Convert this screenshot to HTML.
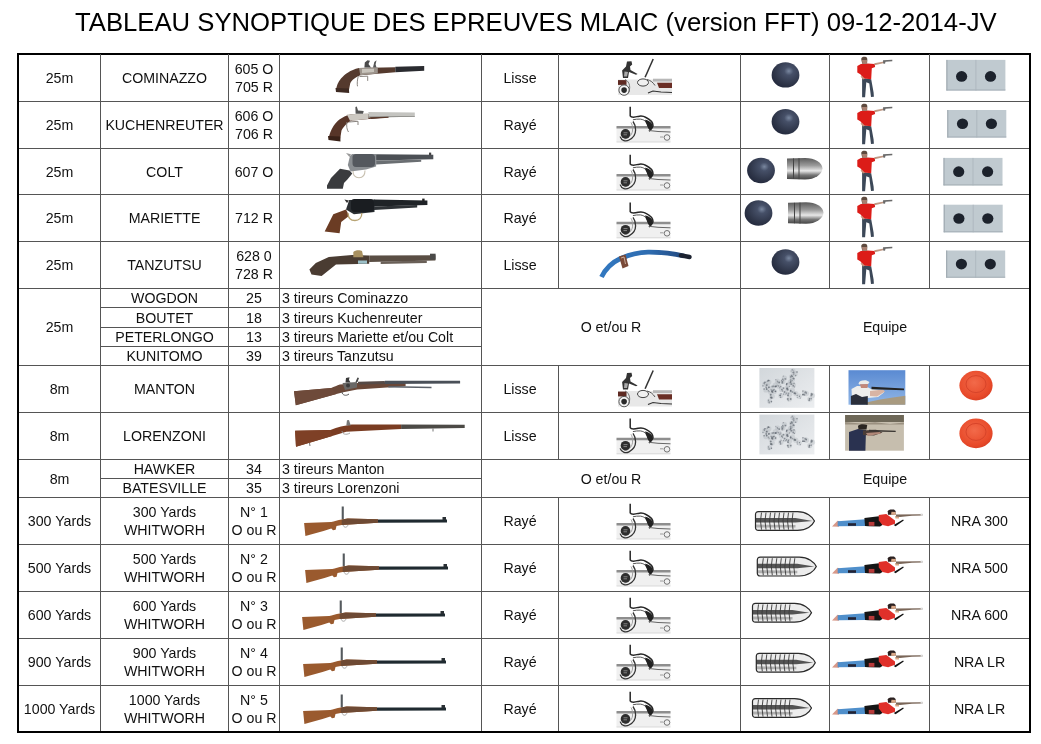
<!DOCTYPE html>
<html><head><meta charset="utf-8"><style>
html,body{margin:0;padding:0;background:#fff;width:1041px;height:744px;overflow:hidden;position:relative}
#wrap{position:absolute;left:0;top:0;width:1041px;height:744px;will-change:transform}
.l{position:absolute}
.t{position:absolute;display:flex;align-items:center;font-family:"Liberation Sans", sans-serif;color:#111;white-space:nowrap;box-sizing:border-box}
.ttl{position:absolute;left:0;top:0;width:1041px;font-family:"Liberation Sans", sans-serif;font-size:25.7px;color:#000;white-space:nowrap}
svg{position:absolute;left:0;top:0}
</style></head><body><div id="wrap">
<div class="ttl" style="left:75px;top:7.7px">TABLEAU SYNOPTIQUE DES EPREUVES MLAIC (version FFT) 09-12-2014-JV</div>
<div class="l" style="left:18px;top:101px;width:1011px;height:1px;background:#555"></div><div class="l" style="left:18px;top:148px;width:1011px;height:1px;background:#555"></div><div class="l" style="left:18px;top:194px;width:1011px;height:1px;background:#555"></div><div class="l" style="left:18px;top:241px;width:1011px;height:1px;background:#555"></div><div class="l" style="left:18px;top:288px;width:1011px;height:1px;background:#555"></div><div class="l" style="left:18px;top:365px;width:1011px;height:1px;background:#555"></div><div class="l" style="left:18px;top:412px;width:1011px;height:1px;background:#555"></div><div class="l" style="left:18px;top:459px;width:1011px;height:1px;background:#555"></div><div class="l" style="left:18px;top:497px;width:1011px;height:1px;background:#555"></div><div class="l" style="left:18px;top:544px;width:1011px;height:1px;background:#555"></div><div class="l" style="left:18px;top:591px;width:1011px;height:1px;background:#555"></div><div class="l" style="left:18px;top:638px;width:1011px;height:1px;background:#555"></div><div class="l" style="left:18px;top:685px;width:1011px;height:1px;background:#555"></div><div class="l" style="left:100px;top:307px;width:381px;height:1px;background:#555"></div><div class="l" style="left:100px;top:327px;width:381px;height:1px;background:#555"></div><div class="l" style="left:100px;top:346px;width:381px;height:1px;background:#555"></div><div class="l" style="left:100px;top:478px;width:381px;height:1px;background:#555"></div><div class="l" style="left:17px;top:53px;width:1014px;height:2px;background:#000"></div><div class="l" style="left:17px;top:731px;width:1014px;height:2px;background:#000"></div><div class="l" style="left:17px;top:53px;width:2px;height:680px;background:#000"></div><div class="l" style="left:1029px;top:53px;width:2px;height:680px;background:#000"></div><div class="l" style="left:100px;top:54px;width:1px;height:677px;background:#555"></div><div class="l" style="left:228px;top:54px;width:1px;height:677px;background:#555"></div><div class="l" style="left:279px;top:54px;width:1px;height:677px;background:#555"></div><div class="l" style="left:481px;top:54px;width:1px;height:677px;background:#555"></div><div class="l" style="left:740px;top:54px;width:1px;height:677px;background:#555"></div><div class="l" style="left:558px;top:54px;width:1px;height:234px;background:#555"></div><div class="l" style="left:558px;top:365px;width:1px;height:94px;background:#555"></div><div class="l" style="left:558px;top:497px;width:1px;height:234px;background:#555"></div><div class="l" style="left:829px;top:54px;width:1px;height:234px;background:#555"></div><div class="l" style="left:829px;top:365px;width:1px;height:94px;background:#555"></div><div class="l" style="left:829px;top:497px;width:1px;height:234px;background:#555"></div><div class="l" style="left:929px;top:54px;width:1px;height:234px;background:#555"></div><div class="l" style="left:929px;top:365px;width:1px;height:94px;background:#555"></div><div class="l" style="left:929px;top:497px;width:1px;height:234px;background:#555"></div><div class="t" style="left:19px;top:55px;width:81px;height:46px;font-size:14.2px;line-height:18px;justify-content:center;text-align:center;">25m</div><div class="t" style="left:101px;top:55px;width:127px;height:46px;font-size:14.2px;line-height:18px;justify-content:center;text-align:center;">COMINAZZO</div><div class="t" style="left:229px;top:55px;width:50px;height:46px;font-size:14.2px;line-height:18px;justify-content:center;text-align:center;">605 O<br>705 R</div><div class="t" style="left:482px;top:55px;width:76px;height:46px;font-size:14.2px;line-height:18px;justify-content:center;text-align:center;">Lisse</div><div class="t" style="left:19px;top:102px;width:81px;height:46px;font-size:14.2px;line-height:18px;justify-content:center;text-align:center;">25m</div><div class="t" style="left:101px;top:102px;width:127px;height:46px;font-size:14.2px;line-height:18px;justify-content:center;text-align:center;">KUCHENREUTER</div><div class="t" style="left:229px;top:102px;width:50px;height:46px;font-size:14.2px;line-height:18px;justify-content:center;text-align:center;">606 O<br>706 R</div><div class="t" style="left:482px;top:102px;width:76px;height:46px;font-size:14.2px;line-height:18px;justify-content:center;text-align:center;">Rayé</div><div class="t" style="left:19px;top:149px;width:81px;height:45px;font-size:14.2px;line-height:18px;justify-content:center;text-align:center;">25m</div><div class="t" style="left:101px;top:149px;width:127px;height:45px;font-size:14.2px;line-height:18px;justify-content:center;text-align:center;">COLT</div><div class="t" style="left:229px;top:149px;width:50px;height:45px;font-size:14.2px;line-height:18px;justify-content:center;text-align:center;">607 O</div><div class="t" style="left:482px;top:149px;width:76px;height:45px;font-size:14.2px;line-height:18px;justify-content:center;text-align:center;">Rayé</div><div class="t" style="left:19px;top:195px;width:81px;height:46px;font-size:14.2px;line-height:18px;justify-content:center;text-align:center;">25m</div><div class="t" style="left:101px;top:195px;width:127px;height:46px;font-size:14.2px;line-height:18px;justify-content:center;text-align:center;">MARIETTE</div><div class="t" style="left:229px;top:195px;width:50px;height:46px;font-size:14.2px;line-height:18px;justify-content:center;text-align:center;">712 R</div><div class="t" style="left:482px;top:195px;width:76px;height:46px;font-size:14.2px;line-height:18px;justify-content:center;text-align:center;">Rayé</div><div class="t" style="left:19px;top:242px;width:81px;height:46px;font-size:14.2px;line-height:18px;justify-content:center;text-align:center;">25m</div><div class="t" style="left:101px;top:242px;width:127px;height:46px;font-size:14.2px;line-height:18px;justify-content:center;text-align:center;">TANZUTSU</div><div class="t" style="left:229px;top:242px;width:50px;height:46px;font-size:14.2px;line-height:18px;justify-content:center;text-align:center;">628 0<br>728 R</div><div class="t" style="left:482px;top:242px;width:76px;height:46px;font-size:14.2px;line-height:18px;justify-content:center;text-align:center;">Lisse</div><div class="t" style="left:19px;top:289px;width:81px;height:76px;font-size:14.2px;line-height:18px;justify-content:center;text-align:center;">25m</div><div class="t" style="left:101px;top:289px;width:127px;height:18px;font-size:14.2px;line-height:18px;justify-content:center;text-align:center;">WOGDON</div><div class="t" style="left:229px;top:289px;width:50px;height:18px;font-size:14.2px;line-height:18px;justify-content:center;text-align:center;">25</div><div class="t" style="left:280px;top:289px;width:201px;height:18px;font-size:14.2px;line-height:18px;justify-content:flex-start;text-align:left;padding-left:2px;">3 tireurs Cominazzo</div><div class="t" style="left:101px;top:308px;width:127px;height:19px;font-size:14.2px;line-height:18px;justify-content:center;text-align:center;">BOUTET</div><div class="t" style="left:229px;top:308px;width:50px;height:19px;font-size:14.2px;line-height:18px;justify-content:center;text-align:center;">18</div><div class="t" style="left:280px;top:308px;width:201px;height:19px;font-size:14.2px;line-height:18px;justify-content:flex-start;text-align:left;padding-left:2px;">3 tireurs Kuchenreuter</div><div class="t" style="left:101px;top:328px;width:127px;height:18px;font-size:14.2px;line-height:18px;justify-content:center;text-align:center;">PETERLONGO</div><div class="t" style="left:229px;top:328px;width:50px;height:18px;font-size:14.2px;line-height:18px;justify-content:center;text-align:center;">13</div><div class="t" style="left:280px;top:328px;width:201px;height:18px;font-size:14.2px;line-height:18px;justify-content:flex-start;text-align:left;padding-left:2px;">3 tireurs Mariette et/ou Colt</div><div class="t" style="left:101px;top:347px;width:127px;height:18px;font-size:14.2px;line-height:18px;justify-content:center;text-align:center;">KUNITOMO</div><div class="t" style="left:229px;top:347px;width:50px;height:18px;font-size:14.2px;line-height:18px;justify-content:center;text-align:center;">39</div><div class="t" style="left:280px;top:347px;width:201px;height:18px;font-size:14.2px;line-height:18px;justify-content:flex-start;text-align:left;padding-left:2px;">3 tireurs Tanzutsu</div><div class="t" style="left:482px;top:288px;width:258px;height:77px;font-size:14.2px;line-height:18px;justify-content:center;text-align:center;">O et/ou R</div><div class="t" style="left:741px;top:288px;width:288px;height:77px;font-size:14.2px;line-height:18px;justify-content:center;text-align:center;">Equipe</div><div class="t" style="left:19px;top:366px;width:81px;height:46px;font-size:14.2px;line-height:18px;justify-content:center;text-align:center;">8m</div><div class="t" style="left:101px;top:366px;width:127px;height:46px;font-size:14.2px;line-height:18px;justify-content:center;text-align:center;">MANTON</div><div class="t" style="left:482px;top:366px;width:76px;height:46px;font-size:14.2px;line-height:18px;justify-content:center;text-align:center;">Lisse</div><div class="t" style="left:19px;top:413px;width:81px;height:46px;font-size:14.2px;line-height:18px;justify-content:center;text-align:center;">8m</div><div class="t" style="left:101px;top:413px;width:127px;height:46px;font-size:14.2px;line-height:18px;justify-content:center;text-align:center;">LORENZONI</div><div class="t" style="left:482px;top:413px;width:76px;height:46px;font-size:14.2px;line-height:18px;justify-content:center;text-align:center;">Lisse</div><div class="t" style="left:19px;top:460px;width:81px;height:37px;font-size:14.2px;line-height:18px;justify-content:center;text-align:center;">8m</div><div class="t" style="left:101px;top:460px;width:127px;height:18px;font-size:14.2px;line-height:18px;justify-content:center;text-align:center;">HAWKER</div><div class="t" style="left:229px;top:460px;width:50px;height:18px;font-size:14.2px;line-height:18px;justify-content:center;text-align:center;">34</div><div class="t" style="left:280px;top:460px;width:201px;height:18px;font-size:14.2px;line-height:18px;justify-content:flex-start;text-align:left;padding-left:2px;">3 tireurs Manton</div><div class="t" style="left:101px;top:479px;width:127px;height:18px;font-size:14.2px;line-height:18px;justify-content:center;text-align:center;">BATESVILLE</div><div class="t" style="left:229px;top:479px;width:50px;height:18px;font-size:14.2px;line-height:18px;justify-content:center;text-align:center;">35</div><div class="t" style="left:280px;top:479px;width:201px;height:18px;font-size:14.2px;line-height:18px;justify-content:flex-start;text-align:left;padding-left:2px;">3 tireurs Lorenzoni</div><div class="t" style="left:482px;top:460px;width:258px;height:37px;font-size:14.2px;line-height:18px;justify-content:center;text-align:center;">O et/ou R</div><div class="t" style="left:741px;top:460px;width:288px;height:37px;font-size:14.2px;line-height:18px;justify-content:center;text-align:center;">Equipe</div><div class="t" style="left:19px;top:498px;width:81px;height:46px;font-size:14.2px;line-height:18px;justify-content:center;text-align:center;">300 Yards</div><div class="t" style="left:101px;top:498px;width:127px;height:46px;font-size:14.2px;line-height:18px;justify-content:center;text-align:center;">300 Yards<br>WHITWORH</div><div class="t" style="left:229px;top:498px;width:50px;height:46px;font-size:14.2px;line-height:18px;justify-content:center;text-align:center;">N° 1<br>O ou R</div><div class="t" style="left:482px;top:498px;width:76px;height:46px;font-size:14.2px;line-height:18px;justify-content:center;text-align:center;">Rayé</div><div class="t" style="left:930px;top:498px;width:99px;height:46px;font-size:14.2px;line-height:18px;justify-content:center;text-align:center;">NRA 300</div><div class="t" style="left:19px;top:545px;width:81px;height:46px;font-size:14.2px;line-height:18px;justify-content:center;text-align:center;">500 Yards</div><div class="t" style="left:101px;top:545px;width:127px;height:46px;font-size:14.2px;line-height:18px;justify-content:center;text-align:center;">500 Yards<br>WHITWORH</div><div class="t" style="left:229px;top:545px;width:50px;height:46px;font-size:14.2px;line-height:18px;justify-content:center;text-align:center;">N° 2<br>O ou R</div><div class="t" style="left:482px;top:545px;width:76px;height:46px;font-size:14.2px;line-height:18px;justify-content:center;text-align:center;">Rayé</div><div class="t" style="left:930px;top:545px;width:99px;height:46px;font-size:14.2px;line-height:18px;justify-content:center;text-align:center;">NRA 500</div><div class="t" style="left:19px;top:592px;width:81px;height:46px;font-size:14.2px;line-height:18px;justify-content:center;text-align:center;">600 Yards</div><div class="t" style="left:101px;top:592px;width:127px;height:46px;font-size:14.2px;line-height:18px;justify-content:center;text-align:center;">600 Yards<br>WHITWORH</div><div class="t" style="left:229px;top:592px;width:50px;height:46px;font-size:14.2px;line-height:18px;justify-content:center;text-align:center;">N° 3<br>O ou R</div><div class="t" style="left:482px;top:592px;width:76px;height:46px;font-size:14.2px;line-height:18px;justify-content:center;text-align:center;">Rayé</div><div class="t" style="left:930px;top:592px;width:99px;height:46px;font-size:14.2px;line-height:18px;justify-content:center;text-align:center;">NRA 600</div><div class="t" style="left:19px;top:639px;width:81px;height:46px;font-size:14.2px;line-height:18px;justify-content:center;text-align:center;">900 Yards</div><div class="t" style="left:101px;top:639px;width:127px;height:46px;font-size:14.2px;line-height:18px;justify-content:center;text-align:center;">900 Yards<br>WHITWORH</div><div class="t" style="left:229px;top:639px;width:50px;height:46px;font-size:14.2px;line-height:18px;justify-content:center;text-align:center;">N° 4<br>O ou R</div><div class="t" style="left:482px;top:639px;width:76px;height:46px;font-size:14.2px;line-height:18px;justify-content:center;text-align:center;">Rayé</div><div class="t" style="left:930px;top:639px;width:99px;height:46px;font-size:14.2px;line-height:18px;justify-content:center;text-align:center;">NRA LR</div><div class="t" style="left:19px;top:686px;width:81px;height:45px;font-size:14.2px;line-height:18px;justify-content:center;text-align:center;">1000 Yards</div><div class="t" style="left:101px;top:686px;width:127px;height:45px;font-size:14.2px;line-height:18px;justify-content:center;text-align:center;">1000 Yards<br>WHITWORH</div><div class="t" style="left:229px;top:686px;width:50px;height:45px;font-size:14.2px;line-height:18px;justify-content:center;text-align:center;">N° 5<br>O ou R</div><div class="t" style="left:482px;top:686px;width:76px;height:45px;font-size:14.2px;line-height:18px;justify-content:center;text-align:center;">Rayé</div><div class="t" style="left:930px;top:686px;width:99px;height:45px;font-size:14.2px;line-height:18px;justify-content:center;text-align:center;">NRA LR</div>
<svg width="1041" height="744" viewBox="0 0 1041 744">
<defs>
<radialGradient id="ball" cx="0.62" cy="0.35" r="0.75">
 <stop offset="0" stop-color="#7a88a0"/><stop offset="0.22" stop-color="#465068"/><stop offset="0.7" stop-color="#2e3548"/><stop offset="1" stop-color="#20263a"/>
</radialGradient>
<linearGradient id="bul" x1="0" y1="0" x2="0" y2="1">
 <stop offset="0" stop-color="#5a5a5a"/><stop offset="0.35" stop-color="#9a9a9a"/><stop offset="0.6" stop-color="#e8e8e8"/><stop offset="0.8" stop-color="#777"/><stop offset="1" stop-color="#444"/>
</linearGradient>
<linearGradient id="lbul" x1="0" y1="0" x2="0" y2="1">
 <stop offset="0" stop-color="#333"/><stop offset="0.3" stop-color="#aaa"/><stop offset="0.5" stop-color="#f4f4f4"/><stop offset="0.75" stop-color="#888"/><stop offset="1" stop-color="#333"/>
</linearGradient>
<radialGradient id="clay" cx="0.45" cy="0.4" r="0.7">
 <stop offset="0" stop-color="#f26a4a"/><stop offset="0.7" stop-color="#e84a2a"/><stop offset="1" stop-color="#d23a20"/>
</radialGradient>
<linearGradient id="cord" gradientUnits="userSpaceOnUse" x1="600" y1="0" x2="690" y2="0"><stop offset="0" stop-color="#3278c0"/><stop offset="0.55" stop-color="#2e6cb0"/><stop offset="0.85" stop-color="#24508a"/><stop offset="1" stop-color="#1c3050"/></linearGradient>
<linearGradient id="sky" x1="0" y1="0" x2="0" y2="1">
 <stop offset="0" stop-color="#5a8ad2"/><stop offset="1" stop-color="#90b6e6"/>
</linearGradient>

<!-- standing pistol shooter, origin = row top-left at (830, rowtop) -->
<g id="stand">
 <path d="M32.1 24 L41.2 25.2 L43.6 38.5 L43.9 42.7 L41 43 L39.3 29.4 L36.3 28.2 L35.1 43.3 L32.1 43.3 Z" fill="#3c4858"/>
 <path d="M27.3 11.9 L30.9 10.1 L37.5 9.5 L44.8 10.1 L45.1 13.1 L41.8 14.3 L41.2 25.2 L33.9 24.6 L30.3 20.3 L27.3 18.5 Z" fill="#dc1c18"/>
 <path d="M31.2 5 C31.4 3.2 33 2.7 35 2.8 C36.8 3 37.5 4 37.3 6 L37.1 9.5 L32.2 9.7 Z" fill="#5e4a3e"/>
 <path d="M32 6 L37.1 6 L36.8 9.8 L32.4 9.8 Z" fill="#a88070"/>
 <path d="M44.2 9.2 L53.9 7.6 L54.2 9 L44.6 11.2 Z" fill="#bf9884"/>
 <path d="M53 6.2 L62.3 5.8 L62.3 7.2 L55.5 7.8 L55 9.8 L53.2 9.6 Z" fill="#6a6a6a"/>
 <path d="M32 22 L35 24.8 L33 25.6 L30.5 22.5 Z" fill="#c89078"/>
</g>



<!-- percussion lock, origin at (616, rowtop+?) -->
<g id="plock">
 <rect x="0.5" y="21" width="54" height="15" fill="#f0f0f0"/>
 <path d="M0.5 21.2 L54.5 21.2" stroke="#8e8e8e" stroke-width="2.6"/>
 <path d="M0.5 36 L54.5 36" stroke="#d0d0d0" stroke-width="0.8"/>
 <path d="M4.1 30.6 C5.5 35 10 35.5 13 34 C17 32 19.6 28 19.6 24 C19.6 20 18.5 17.5 17 15.5" fill="none" stroke="#333" stroke-width="1.3"/>
 <path d="M8 33 C12 33 16 29 16.5 25 C17 21 16 18 15 16.5" fill="none" stroke="#999" stroke-width="0.9"/>
 <circle cx="9.5" cy="27.9" r="4.8" fill="#2e2e2e"/>
 <path d="M7.5 26.8 L11.5 26.8 M7.5 28.8 L11 28.8" stroke="#999" stroke-width="0.8"/>
 <path d="M14.2 0.8 L14.2 9.8 C15 11.4 17 11.8 22.2 10.4 C25 9.8 28 10.3 30 11.5 C34 13.5 37 17 37 19.5 C37 21 36 22.5 33 25.2" fill="none" stroke="#262626" stroke-width="1.5"/>
 <path d="M16.9 13.8 C19 13.3 22 12.9 24.3 13.1 C27 13.5 29 14.5 30 16 C31 17.5 31.5 19 31.7 20.5" fill="none" stroke="#555" stroke-width="1"/>
 <path d="M29 13.8 C33 14.5 36.5 17 36.8 20 C36.8 22 35.5 23.5 33.5 24 C31.5 22.5 31.5 19 29.8 16.5 Z" fill="#222"/>
 <path d="M33 24.5 L42 25.5 L54.5 26" fill="none" stroke="#666" stroke-width="1"/>
 <circle cx="51" cy="31.5" r="2.8" fill="none" stroke="#666" stroke-width="0.9"/>
 <path d="M44 31 L47.5 31" stroke="#888" stroke-width="0.8"/>
</g>

<!-- flint lock -->
<g id="flock">
 <rect x="1" y="21" width="54" height="15.5" fill="#e8e8e8"/>
 <rect x="1" y="21.6" width="8.5" height="4.8" fill="#5e2a22"/>
 <rect x="36" y="20.2" width="19" height="2.8" fill="#b8b8b8"/>
 <path d="M40 24.2 L55 24.2 L55 29.6 L42 29.6 Z" fill="#6a2e25"/>
 <circle cx="7.1" cy="31.6" r="5.2" fill="#f4f4f4" stroke="#555" stroke-width="1"/>
 <circle cx="7.1" cy="31.6" r="2.8" fill="#2a2a2a"/>
 <path d="M8 21 C13 23 14 30 11 35" fill="none" stroke="#666" stroke-width="0.9"/>
 <path d="M10 3 L14.5 2.7 L15.2 6 L13 8 L13.5 11.5 L20.6 15.5 L19 16.2 L12 13.5 L11 19.5 L6 19.5 L5.1 12 L9 8 Z" fill="#333"/>
 <path d="M7.5 13 L11 13.5 L10 18 L7 18 Z" fill="#aaa"/>
 <path d="M35.5 0.3 L36.9 0.8 L28.8 19 L27.4 18.6 Z" fill="#333"/>
 <ellipse cx="26" cy="24" rx="5.5" ry="3.6" fill="#f0f0f0" stroke="#444" stroke-width="1"/>
 <path d="M30 21 C34 22 36 24 38 27" fill="none" stroke="#555" stroke-width="1"/>
 <path d="M31 34.5 L36 32.5 L44 33.5 L55 34" fill="none" stroke="#333" stroke-width="1.2"/>
</g>

<!-- whitworth rifle; origin row top (x abs) -->
<g id="rifle">
 <path d="M304.1 25.9 L331.3 25 C334 24.5 338 23 341.7 22.4 L347.7 21.6 L378 22.2 L378 25.8 L341.7 28 L336.5 28.9 L335.6 32.8 L333 33.2 L331.3 31.5 L323.5 34.1 L305.4 38.9 Z" fill="#9a5a2e"/>
 <path d="M341.7 22.4 L347.7 21.6 L378 22.2 L378 25.8 L341.7 28 Z" fill="#6e4a34"/>
 <path d="M378 22.6 L447 22.6 L447 25.4 L378 25.8 Z" fill="#1f2a30"/>
 <rect x="442.5" y="20" width="3.5" height="3" fill="#2a3034"/>
 <rect x="341.7" y="9.5" width="2.1" height="12.5" fill="#555a5e"/>
 <path d="M343 28 C344 31 347 31 348 28" fill="none" stroke="#999" stroke-width="0.8"/>
</g>

<!-- long bullet -->
<g id="lbullet">
 <path d="M0 3 Q0 0 3 0 L42 0 C51 0 57 5 59 9.4 C57 14 51 18.8 42 18.8 L3 18.8 Q0 18.8 0 15.8 Z" fill="#ececec"/>
 <path d="M0 6.5 L40 6.5 L57 9.4 L40 11 L0 11 Z" fill="#3a3a3a" fill-opacity="0.85"/>
 <path d="M0 13 L40 13.5 L40 16 L0 16 Z" fill="#b0b0b0"/>
 <path d="M6 1 Q4 9 6 18 M10.5 1 Q8.5 9 10.5 18 M15 1 Q13 9 15 18 M19.5 1 Q17.5 9 19.5 18 M24 1 Q22 9 24 18 M28.5 1 Q26.5 9 28.5 18 M33 1 Q31 9 33 18 M37.5 1 Q35.5 9 37.5 18" stroke="#3a3a3a" stroke-width="0.9" fill="none"/>
 <path d="M0 3 Q0 0 3 0 L42 0 C51 0 57 5 59 9.4 C57 14 51 18.8 42 18.8 L3 18.8 Q0 18.8 0 15.8 Z" fill="none" stroke="#2a2a2a" stroke-width="1.2"/>
</g>

<!-- prone shooter -->
<g id="prone">
 <path d="M2 26.5 L7.5 20.8 L9.5 21.2 L9 26.8 Z" fill="#d89888"/>
 <path d="M7.7 21.3 L35.5 19.2 L36.5 25.9 L7.7 26.2 Z" fill="#4f8fcb"/>
 <rect x="18" y="23.2" width="8" height="2.6" fill="#223"/>
 <path d="M34.4 18.1 L48.75 16.3 L52.5 25 L50 26.5 L38.1 26.3 L35 26 Z" fill="#151515"/>
 <path d="M38.75 21.9 L44.4 21.9 L44.4 25.8 L38.75 25.8 Z" fill="#b83a3a"/>
 <path d="M48.75 15 L56.3 14.1 L59.4 16.3 L65 20.6 L65 23.8 L58.1 26.3 L52.5 25 L48.75 20.6 Z" fill="#e0302a"/>
 <path d="M57.8 11.2 C58 9.6 61 9.2 64 9.6 L65.6 11 L65.6 14.7 L58 14.7 Z" fill="#2a2020"/>
 <path d="M61.5 11.8 L65.8 12 L65.6 15 L61 14.8 Z" fill="#d8a888"/>
 <path d="M63.75 25 L73.1 19.4 L73.75 20.6 L65.6 26.3 Z" fill="#111"/>
 <path d="M65 16 L69 16.2 L69 18.5 L65.5 18.5 Z" fill="#d8a888"/>
 <path d="M66 14.5 L92.5 14.2 L92.5 15.4 L82 15.7 L70 17 L66 16.5 Z" fill="#7a6658"/>
 <rect x="90.6" y="13.6" width="2" height="2.2" fill="#ddd"/>
</g>
</defs>
<ellipse cx="785.5" cy="74.9" rx="13.9" ry="12.7" fill="url(#ball)"/>
<ellipse cx="785.5" cy="121.7" rx="13.9" ry="12.7" fill="url(#ball)"/>
<ellipse cx="761" cy="170.5" rx="13.9" ry="12.7" fill="url(#ball)"/>
<ellipse cx="758.5" cy="213" rx="13.9" ry="12.7" fill="url(#ball)"/>
<ellipse cx="785.5" cy="262" rx="13.9" ry="12.7" fill="url(#ball)"/>
<g transform="translate(787,157.4)"><path d="M0 1 L18 0.5 C28 0.5 35 5 35.5 11 C35 17 28 22 18 22 L0 21.5 Z" fill="url(#bul)"/><path d="M6.5 1 L6.5 21.5 M12 0.8 L12 21.8" stroke="#444" stroke-width="1"/></g>
<g transform="translate(788,201.8)"><path d="M0 1 L18 0.5 C28 0.5 35 5 35.5 11 C35 17 28 22 18 22 L0 21.5 Z" fill="url(#bul)"/><path d="M6.5 1 L6.5 21.5 M12 0.8 L12 21.8" stroke="#444" stroke-width="1"/></g>
<use href="#stand" x="830" y="54"/>
<use href="#stand" x="830" y="101"/>
<use href="#stand" x="830" y="148"/>
<use href="#stand" x="830" y="194"/>
<use href="#stand" x="830" y="241"/>
<g transform="translate(946.4,59.9)"><rect x="0" y="0" width="59" height="30.6" fill="#c0cad0"/><rect x="0" y="0" width="1" height="30.6" fill="#9aa4ab"/><rect x="0" y="29.6" width="59" height="1" fill="#a4aeb5"/><line x1="29.5" y1="0" x2="29.5" y2="30.6" stroke="#aab4bb" stroke-width="0.8"/></g>
<ellipse cx="961.6" cy="76.4" rx="5.6" ry="5.3" fill="#1c222c"/><ellipse cx="990.5" cy="76.4" rx="5.6" ry="5.3" fill="#1c222c"/>
<g transform="translate(947.3,110)"><rect x="0" y="0" width="59" height="27.5" fill="#c0cad0"/><rect x="0" y="0" width="1" height="27.5" fill="#9aa4ab"/><rect x="0" y="26.5" width="59" height="1" fill="#a4aeb5"/><line x1="29.5" y1="0" x2="29.5" y2="27.5" stroke="#aab4bb" stroke-width="0.8"/></g>
<ellipse cx="962.5" cy="123.75" rx="5.6" ry="5.3" fill="#1c222c"/><ellipse cx="991.4" cy="123.75" rx="5.6" ry="5.3" fill="#1c222c"/>
<g transform="translate(943.5,157.9)"><rect x="0" y="0" width="59" height="27.5" fill="#c0cad0"/><rect x="0" y="0" width="1" height="27.5" fill="#9aa4ab"/><rect x="0" y="26.5" width="59" height="1" fill="#a4aeb5"/><line x1="29.5" y1="0" x2="29.5" y2="27.5" stroke="#aab4bb" stroke-width="0.8"/></g>
<ellipse cx="958.7" cy="171.65" rx="5.6" ry="5.3" fill="#1c222c"/><ellipse cx="987.6" cy="171.65" rx="5.6" ry="5.3" fill="#1c222c"/>
<g transform="translate(943.7,204.7)"><rect x="0" y="0" width="59" height="27.6" fill="#c0cad0"/><rect x="0" y="0" width="1" height="27.6" fill="#9aa4ab"/><rect x="0" y="26.6" width="59" height="1" fill="#a4aeb5"/><line x1="29.5" y1="0" x2="29.5" y2="27.6" stroke="#aab4bb" stroke-width="0.8"/></g>
<ellipse cx="958.9000000000001" cy="218.5" rx="5.6" ry="5.3" fill="#1c222c"/><ellipse cx="987.8000000000001" cy="218.5" rx="5.6" ry="5.3" fill="#1c222c"/>
<g transform="translate(946.2,250.5)"><rect x="0" y="0" width="59" height="27.2" fill="#c0cad0"/><rect x="0" y="0" width="1" height="27.2" fill="#9aa4ab"/><rect x="0" y="26.2" width="59" height="1" fill="#a4aeb5"/><line x1="29.5" y1="0" x2="29.5" y2="27.2" stroke="#aab4bb" stroke-width="0.8"/></g>
<ellipse cx="961.4000000000001" cy="264.1" rx="5.6" ry="5.3" fill="#1c222c"/><ellipse cx="990.3000000000001" cy="264.1" rx="5.6" ry="5.3" fill="#1c222c"/>
<use href="#flock" x="617" y="58.5"/>
<use href="#flock" x="617" y="370"/>
<use href="#plock" x="616" y="106"/>
<use href="#plock" x="616" y="154"/>
<use href="#plock" x="616" y="201.8"/>
<use href="#plock" x="616" y="417.8"/>
<use href="#plock" x="616" y="503"/>
<use href="#plock" x="616" y="550"/>
<use href="#plock" x="616" y="597"/>
<use href="#plock" x="616" y="644"/>
<use href="#plock" x="616" y="691"/>
<use href="#rifle" x="0" y="497"/>
<use href="#rifle" x="1" y="544"/>
<use href="#rifle" x="-2" y="591"/>
<use href="#rifle" x="-1" y="638"/>
<use href="#rifle" x="-1" y="685"/>
<use href="#lbullet" x="755.5" y="511.6"/>
<use href="#lbullet" x="757.3" y="557.2"/>
<use href="#lbullet" x="752.5" y="603.4"/>
<use href="#lbullet" x="756.3" y="653.3"/>
<use href="#lbullet" x="752.5" y="698.6"/>
<use href="#prone" x="830" y="500"/>
<use href="#prone" x="830" y="547"/>
<use href="#prone" x="830" y="594"/>
<use href="#prone" x="830" y="641"/>
<use href="#prone" x="830" y="688"/>
<path d="M336.1 89.7 C336.5 86 338 82 341 78.5 C345 74 350 70 359 67.9 L395.3 67.2 L395.3 72.2 L360.3 75.3 C356 77 351.5 80 350.2 83.6 L348.9 90.3 Z" fill="#553a2e"/>
<path d="M335.5 88 L348.9 88.6 L349.2 93 L336 92 Z" fill="#3e2a22"/>
<path d="M359 67.9 L377.8 67.5 L377.8 73.6 L360.3 75.3 Z" fill="#9c948c"/>
<path d="M362 69 L374 68.8 L374 72 L362 73 Z" fill="#c8c4bc"/>
<path d="M364.4 67.5 L364.8 62.5 L367.5 60.2 L370 60.8 L368.5 64 L371 67.5 Z" fill="#4a4a4a"/>
<path d="M373 67.5 L374.3 62 L376.5 60.2 L375.6 64.5 L376.5 67.5 Z" fill="#555"/>
<path d="M395.3 66.8 L424.2 66.1 L424.2 70.8 L395.3 72.2 Z" fill="#2a2b30"/>
<path d="M358.3 76.2 C357.2 80 357 84 357.5 86.3 M359.5 76.5 L367.7 76.2 L367.7 80.9" fill="none" stroke="#8a8580" stroke-width="1"/>
<path d="M328.7 138 C329.5 134 331 130 333.5 126 C337 121 341 117 350.9 114.2 L388.5 113.8 L388.5 117.2 L352.3 120.6 C348 122 344 126 341.5 130.6 L340.2 138.7 Z" fill="#573528"/>
<path d="M328 136 L340.2 136.5 L340.5 141.4 L328.5 140 Z" fill="#3a2218"/>
<path d="M346.9 114.5 L368.4 113.2 L368.4 119 L350 120.8 Z" fill="#cdc9c2"/>
<path d="M368.4 112.1 L414.8 112.5 L414.8 116.8 L388.5 117.2 L368.4 117.6 Z" fill="#c4c4c0"/>
<path d="M368.4 116.6 L414.8 116 L414.8 116.8 L368.4 117.6 Z" fill="#8a8a86"/>
<path d="M370 117.3 L388.5 116.8 L388.5 117.8 L371 119 Z" fill="#5a3a2c"/>
<path d="M355.6 113.8 L355.4 107 L356.8 106.5 L358 110.5 L363.7 111 L363 113.8 Z" fill="#555"/>
<path d="M347 122 C346.2 126 347 130 348.5 132 M349 122 L358 121.3 L358 125" fill="none" stroke="#8a8580" stroke-width="1"/>
<path d="M349.6 170.5 L340 168.8 L331 178 L327 185.6 L327 188.8 L342.8 188.8 L344 183 L347.6 179.3 L352.3 173.5 Z" fill="#3a3b3e"/>
<path d="M350 156 L352 153.9 L376.1 153.9 L376.1 166.5 L366 169.5 L350.5 171.5 L347.8 165 Z" fill="#8a8e92"/>
<path d="M352.5 157 C352.5 154.5 355 154 358 154 L371 154 C374 154 375 155.5 375 158 L375 163.5 C375 166 373.5 167 371 167 L356 167 C353.5 167 352.5 165.5 352.5 163 Z" fill="#54585e"/>
<path d="M376.1 154.2 L433.3 154.7 L433.3 159.3 L376.1 160.5 Z" fill="#4c5055"/>
<path d="M376.1 160.5 L421.2 159.8 L421.2 161.8 L376.1 164.5 Z" fill="#6a6e72"/>
<rect x="429" y="152.6" width="2.2" height="2.5" fill="#444"/>
<path d="M349.5 157 L346 153 L351 154.2 Z" fill="#999"/>
<path d="M353 171 C353 176 356 177.7 359 177.7 C362 177.7 365 176 365 170.5" fill="none" stroke="#c8c0b0" stroke-width="1.1"/>
<path d="M346 209.4 L333.3 214.2 L324.7 231.6 L339.6 233.2 L341.2 222.1 L349.2 215.7 Z" fill="#6b3c24"/>
<path d="M349.2 199.9 L374.5 199.4 L374.5 212 L353.9 214.2 L346 209.4 Z" fill="#2a2e32"/>
<path d="M351 202 C351 199.5 353 199 356 199 L370 199 C373 199 374 200.5 374 203 L374 208.5 C374 211 372.5 212 370 212 L355 212 C352.5 212 351 210.5 351 208 Z" fill="#1a1d21"/>
<path d="M374 199.6 L427.4 200.4 L427.4 205 L374 206.4 Z" fill="#1f2327"/>
<path d="M374 206.4 L417.2 205 L417.2 207.5 L374 210 Z" fill="#2e3236"/>
<rect x="422.2" y="198.6" width="2.4" height="2.4" fill="#222"/>
<path d="M347 203 L344.4 199.6 L349 200.5 Z" fill="#333"/>
<path d="M348 213 C348 218 351 220.5 355 220.5 C359 220.5 362 218 361.8 213" fill="none" stroke="#b8a474" stroke-width="1.3"/>
<path d="M309.4 269.5 L315.8 263 L328.8 257 L352 255.1 L369.2 255.6 L369.2 263.8 L336 264.5 L321.6 276 L311.5 274.6 Z" fill="#4a3c32"/>
<path d="M369.2 255.4 L435.4 255.2 L435.4 260.4 L369.2 262 Z" fill="#5a4e44"/>
<rect x="430" y="253.7" width="5.6" height="6" fill="#4a4a48"/>
<path d="M380.7 261.5 L426.8 260.5 L426.8 263 L380.7 264 Z" fill="#6a6058"/>
<path d="M353.3 252 C355 250 360 249.8 362 251 L363.4 257.3 L353.3 257.3 Z" fill="#a89060"/>
<rect x="358" y="260.5" width="9" height="3.2" fill="#9cc0c8"/>
<path d="M601.5 277 C606 268 612 262.5 620 258.8 C630 254.2 640 252.2 648 252.1 C662 252 674 253.5 684 256" fill="none" stroke="url(#cord)" stroke-width="4.8" stroke-linecap="butt"/>
<path d="M681 255.4 L689.5 257" fill="none" stroke="#1c2230" stroke-width="4.4" stroke-linecap="round"/>
<path d="M619 256.5 L625.5 254.5 L628.5 266 L622.5 268.5 Z" fill="#7a4a38"/><path d="M621 258 L624 257 L625.5 264" stroke="#d8c0b0" stroke-width="0.8" fill="none"/>
<path d="M294 391.3 L331.2 387.9 C334 386.8 337 385.2 339.9 384.4 L360.6 382.7 L405.6 381.8 L405.6 386.2 L357.2 389.6 L343.3 392.2 L336.4 393.9 L295.8 405.2 Z" fill="#6a4838"/>
<path d="M294 391.3 L331.2 387.9 L336.4 393.9 L295.8 405.2 Z" fill="#6e4a3a"/>
<path d="M358 381.8 L384.8 381.1 L384.8 384 L358 384.6 Z" fill="#564a46"/><path d="M384.8 380.8 L460.1 380.8 L460.1 383.6 L384.8 384 Z" fill="#4a5058"/>
<path d="M388.3 386 L431.5 386.8 L431.5 388.2 L388.3 387.6 Z" fill="#5a6068"/>
<path d="M342.5 383 L357 382 L357 387.5 L345 390 Z" fill="#6a6866"/>
<circle cx="348" cy="385.5" r="2" fill="#3a3a3a"/>
<path d="M345.5 382.5 L346 378 L349.5 377.2 L349 380 L350.5 382.5 Z" fill="#3a3a3a"/>
<path d="M355.5 382 L357.5 377.5 L359 378 L357.5 382 Z" fill="#444"/>
<path d="M342 392 C342 395 346 396.5 349 394" fill="none" stroke="#555" stroke-width="1"/>
<path d="M295.1 430.8 L330.4 429.9 C334 428.6 337.5 427.2 341 426.4 L351.6 424.6 L401.1 424.6 L401.1 429 L346.3 431.7 L332.2 436.1 L296 446.7 Z" fill="#7a3c22"/>
<path d="M295.1 430.8 L330.4 429.9 L332.2 436.1 L296 446.7 Z" fill="#7e4026"/>
<path d="M401.1 424.4 L464.7 424.8 L464.7 428.1 L401.1 429 Z" fill="#4c4a46"/>
<path d="M346.3 425.5 L347 420.2 L349 420 L350.7 425.5 Z" fill="#777"/>
<path d="M342 431 C342 434 346 435.5 350 433" fill="none" stroke="#999" stroke-width="0.9"/>
<path d="M433 428.5 L433 431.5 M309.5 443 L310 446" stroke="#666" stroke-width="0.9"/>
<linearGradient id="pap" x1="0" y1="0" x2="1" y2="1"><stop offset="0" stop-color="#d2d7db"/><stop offset="0.6" stop-color="#e2e5e8"/><stop offset="1" stop-color="#eceef0"/></linearGradient>
<g transform="translate(759.4,368)"><g id="paper"><rect x="0" y="0" width="55" height="39.8" fill="url(#pap)"/><circle cx="33.6" cy="3.2" r="2.6" fill="#a8aeb4" fill-opacity="0.35"/><circle cx="32.9" cy="1.8" r="0.8" fill="#5c636c" fill-opacity="0.43"/><circle cx="33.7" cy="2.7" r="0.5" fill="#5c636c" fill-opacity="0.58"/><circle cx="31.7" cy="2.9" r="0.5" fill="#5c636c" fill-opacity="0.43"/><circle cx="33.3" cy="4.5" r="0.6" fill="#5c636c" fill-opacity="0.48"/><circle cx="35.7" cy="5.8" r="2.6" fill="#a8aeb4" fill-opacity="0.35"/><circle cx="36.2" cy="7.6" r="0.8" fill="#5c636c" fill-opacity="0.54"/><circle cx="37.6" cy="4.0" r="0.9" fill="#5c636c" fill-opacity="0.50"/><circle cx="34.3" cy="4.3" r="0.7" fill="#5c636c" fill-opacity="0.69"/><circle cx="34.4" cy="6.1" r="0.8" fill="#5c636c" fill-opacity="0.53"/><circle cx="32.3" cy="8.7" r="2.6" fill="#a8aeb4" fill-opacity="0.35"/><circle cx="32.5" cy="7.0" r="0.5" fill="#5c636c" fill-opacity="0.47"/><circle cx="33.0" cy="8.4" r="0.7" fill="#5c636c" fill-opacity="0.60"/><circle cx="32.1" cy="7.9" r="0.9" fill="#5c636c" fill-opacity="0.64"/><circle cx="31.3" cy="9.0" r="0.8" fill="#5c636c" fill-opacity="0.71"/><circle cx="33.0" cy="11.4" r="2.6" fill="#a8aeb4" fill-opacity="0.35"/><circle cx="33.9" cy="10.6" r="1.0" fill="#5c636c" fill-opacity="0.44"/><circle cx="32.7" cy="12.4" r="0.6" fill="#5c636c" fill-opacity="0.57"/><circle cx="31.2" cy="12.1" r="0.9" fill="#5c636c" fill-opacity="0.60"/><circle cx="34.5" cy="10.7" r="0.8" fill="#5c636c" fill-opacity="0.61"/><circle cx="31.0" cy="14.1" r="2.6" fill="#a8aeb4" fill-opacity="0.35"/><circle cx="31.3" cy="13.9" r="0.9" fill="#5c636c" fill-opacity="0.73"/><circle cx="30.9" cy="14.8" r="0.5" fill="#5c636c" fill-opacity="0.65"/><circle cx="31.6" cy="16.1" r="0.9" fill="#5c636c" fill-opacity="0.50"/><circle cx="30.5" cy="14.8" r="0.5" fill="#5c636c" fill-opacity="0.56"/><circle cx="28.9" cy="16.8" r="2.6" fill="#a8aeb4" fill-opacity="0.35"/><circle cx="27.6" cy="15.3" r="0.5" fill="#5c636c" fill-opacity="0.67"/><circle cx="27.4" cy="15.8" r="0.7" fill="#5c636c" fill-opacity="0.70"/><circle cx="27.2" cy="16.6" r="0.8" fill="#5c636c" fill-opacity="0.71"/><circle cx="30.2" cy="18.3" r="0.6" fill="#5c636c" fill-opacity="0.55"/><circle cx="23.5" cy="13.4" r="2.6" fill="#a8aeb4" fill-opacity="0.35"/><circle cx="22.9" cy="14.9" r="1.0" fill="#5c636c" fill-opacity="0.45"/><circle cx="22.2" cy="12.3" r="0.6" fill="#5c636c" fill-opacity="0.57"/><circle cx="23.9" cy="12.5" r="0.5" fill="#5c636c" fill-opacity="0.55"/><circle cx="23.0" cy="13.7" r="1.0" fill="#5c636c" fill-opacity="0.64"/><circle cx="18.2" cy="13.4" r="2.6" fill="#a8aeb4" fill-opacity="0.35"/><circle cx="18.3" cy="13.9" r="0.8" fill="#5c636c" fill-opacity="0.42"/><circle cx="19.8" cy="14.5" r="0.9" fill="#5c636c" fill-opacity="0.68"/><circle cx="17.8" cy="13.0" r="0.6" fill="#5c636c" fill-opacity="0.62"/><circle cx="16.4" cy="11.7" r="0.6" fill="#5c636c" fill-opacity="0.46"/><circle cx="9.4" cy="14.1" r="2.6" fill="#a8aeb4" fill-opacity="0.35"/><circle cx="8.8" cy="12.3" r="0.5" fill="#5c636c" fill-opacity="0.45"/><circle cx="7.8" cy="13.6" r="0.5" fill="#5c636c" fill-opacity="0.71"/><circle cx="9.9" cy="12.7" r="0.6" fill="#5c636c" fill-opacity="0.52"/><circle cx="8.9" cy="12.6" r="0.9" fill="#5c636c" fill-opacity="0.75"/><circle cx="5.4" cy="16.1" r="2.6" fill="#a8aeb4" fill-opacity="0.35"/><circle cx="5.3" cy="16.0" r="0.5" fill="#5c636c" fill-opacity="0.44"/><circle cx="4.8" cy="15.2" r="0.9" fill="#5c636c" fill-opacity="0.46"/><circle cx="3.5" cy="17.9" r="0.8" fill="#5c636c" fill-opacity="0.45"/><circle cx="5.6" cy="14.2" r="0.8" fill="#5c636c" fill-opacity="0.74"/><circle cx="8.1" cy="18.2" r="2.6" fill="#a8aeb4" fill-opacity="0.35"/><circle cx="9.6" cy="19.0" r="0.6" fill="#5c636c" fill-opacity="0.53"/><circle cx="6.8" cy="19.3" r="0.8" fill="#5c636c" fill-opacity="0.67"/><circle cx="7.4" cy="17.1" r="0.9" fill="#5c636c" fill-opacity="0.74"/><circle cx="9.5" cy="19.4" r="0.9" fill="#5c636c" fill-opacity="0.66"/><circle cx="10.8" cy="23.5" r="2.6" fill="#a8aeb4" fill-opacity="0.35"/><circle cx="9.7" cy="23.6" r="0.7" fill="#5c636c" fill-opacity="0.41"/><circle cx="8.9" cy="22.6" r="0.6" fill="#5c636c" fill-opacity="0.64"/><circle cx="12.6" cy="23.3" r="1.0" fill="#5c636c" fill-opacity="0.75"/><circle cx="12.6" cy="23.0" r="0.6" fill="#5c636c" fill-opacity="0.48"/><circle cx="14.8" cy="23.5" r="2.6" fill="#a8aeb4" fill-opacity="0.35"/><circle cx="13.6" cy="22.3" r="0.8" fill="#5c636c" fill-opacity="0.72"/><circle cx="16.2" cy="23.4" r="0.8" fill="#5c636c" fill-opacity="0.68"/><circle cx="13.1" cy="24.1" r="1.0" fill="#5c636c" fill-opacity="0.67"/><circle cx="15.8" cy="23.4" r="0.6" fill="#5c636c" fill-opacity="0.68"/><circle cx="12.8" cy="28.2" r="2.6" fill="#a8aeb4" fill-opacity="0.35"/><circle cx="12.1" cy="29.4" r="1.0" fill="#5c636c" fill-opacity="0.54"/><circle cx="12.4" cy="30.0" r="0.9" fill="#5c636c" fill-opacity="0.46"/><circle cx="11.3" cy="26.8" r="1.0" fill="#5c636c" fill-opacity="0.68"/><circle cx="11.4" cy="29.5" r="1.0" fill="#5c636c" fill-opacity="0.63"/><circle cx="10.1" cy="33.0" r="2.6" fill="#a8aeb4" fill-opacity="0.35"/><circle cx="9.5" cy="33.2" r="0.6" fill="#5c636c" fill-opacity="0.40"/><circle cx="12.0" cy="33.6" r="0.8" fill="#5c636c" fill-opacity="0.73"/><circle cx="9.8" cy="34.5" r="0.9" fill="#5c636c" fill-opacity="0.47"/><circle cx="9.1" cy="32.2" r="0.6" fill="#5c636c" fill-opacity="0.61"/><circle cx="21.5" cy="27.6" r="2.6" fill="#a8aeb4" fill-opacity="0.35"/><circle cx="20.5" cy="27.3" r="0.6" fill="#5c636c" fill-opacity="0.72"/><circle cx="20.9" cy="27.4" r="0.8" fill="#5c636c" fill-opacity="0.72"/><circle cx="21.2" cy="29.3" r="0.8" fill="#5c636c" fill-opacity="0.59"/><circle cx="21.6" cy="25.7" r="0.7" fill="#5c636c" fill-opacity="0.46"/><circle cx="26.2" cy="24.9" r="2.6" fill="#a8aeb4" fill-opacity="0.35"/><circle cx="24.2" cy="26.1" r="0.6" fill="#5c636c" fill-opacity="0.57"/><circle cx="27.1" cy="25.1" r="0.7" fill="#5c636c" fill-opacity="0.58"/><circle cx="26.4" cy="26.0" r="0.6" fill="#5c636c" fill-opacity="0.60"/><circle cx="25.2" cy="24.0" r="0.9" fill="#5c636c" fill-opacity="0.58"/><circle cx="27.6" cy="20.2" r="2.6" fill="#a8aeb4" fill-opacity="0.35"/><circle cx="27.8" cy="21.2" r="1.0" fill="#5c636c" fill-opacity="0.56"/><circle cx="28.1" cy="20.2" r="0.8" fill="#5c636c" fill-opacity="0.64"/><circle cx="27.4" cy="20.3" r="0.7" fill="#5c636c" fill-opacity="0.73"/><circle cx="28.4" cy="21.7" r="1.0" fill="#5c636c" fill-opacity="0.49"/><circle cx="32.9" cy="22.2" r="2.6" fill="#a8aeb4" fill-opacity="0.35"/><circle cx="33.1" cy="24.0" r="0.9" fill="#5c636c" fill-opacity="0.45"/><circle cx="31.4" cy="22.0" r="0.5" fill="#5c636c" fill-opacity="0.48"/><circle cx="31.2" cy="22.9" r="0.9" fill="#5c636c" fill-opacity="0.71"/><circle cx="31.5" cy="23.1" r="0.8" fill="#5c636c" fill-opacity="0.45"/><circle cx="36.3" cy="25.6" r="2.6" fill="#a8aeb4" fill-opacity="0.35"/><circle cx="37.8" cy="27.5" r="0.6" fill="#5c636c" fill-opacity="0.73"/><circle cx="35.9" cy="25.5" r="1.0" fill="#5c636c" fill-opacity="0.69"/><circle cx="34.9" cy="25.3" r="0.8" fill="#5c636c" fill-opacity="0.52"/><circle cx="35.1" cy="24.9" r="0.9" fill="#5c636c" fill-opacity="0.41"/><circle cx="39.7" cy="28.2" r="2.6" fill="#a8aeb4" fill-opacity="0.35"/><circle cx="39.9" cy="28.0" r="0.5" fill="#5c636c" fill-opacity="0.52"/><circle cx="40.2" cy="28.2" r="0.5" fill="#5c636c" fill-opacity="0.74"/><circle cx="40.9" cy="30.1" r="0.6" fill="#5c636c" fill-opacity="0.49"/><circle cx="37.9" cy="29.3" r="0.6" fill="#5c636c" fill-opacity="0.45"/><circle cx="45.1" cy="24.9" r="2.6" fill="#a8aeb4" fill-opacity="0.35"/><circle cx="44.8" cy="26.5" r="0.9" fill="#5c636c" fill-opacity="0.49"/><circle cx="43.7" cy="26.6" r="0.8" fill="#5c636c" fill-opacity="0.65"/><circle cx="43.5" cy="23.1" r="0.8" fill="#5c636c" fill-opacity="0.55"/><circle cx="43.4" cy="26.7" r="0.8" fill="#5c636c" fill-opacity="0.68"/><circle cx="47.0" cy="25.6" r="2.6" fill="#a8aeb4" fill-opacity="0.35"/><circle cx="45.3" cy="27.0" r="0.5" fill="#5c636c" fill-opacity="0.70"/><circle cx="46.8" cy="25.0" r="0.8" fill="#5c636c" fill-opacity="0.72"/><circle cx="46.1" cy="24.1" r="0.8" fill="#5c636c" fill-opacity="0.48"/><circle cx="45.4" cy="24.2" r="0.5" fill="#5c636c" fill-opacity="0.47"/><circle cx="53.1" cy="27.6" r="2.6" fill="#a8aeb4" fill-opacity="0.35"/><circle cx="52.3" cy="26.8" r="0.9" fill="#5c636c" fill-opacity="0.50"/><circle cx="53.1" cy="26.3" r="0.7" fill="#5c636c" fill-opacity="0.41"/><circle cx="52.1" cy="25.7" r="0.9" fill="#5c636c" fill-opacity="0.59"/><circle cx="51.9" cy="27.5" r="1.0" fill="#5c636c" fill-opacity="0.44"/><circle cx="50.4" cy="31.0" r="2.6" fill="#a8aeb4" fill-opacity="0.35"/><circle cx="51.7" cy="30.7" r="0.7" fill="#5c636c" fill-opacity="0.69"/><circle cx="50.0" cy="31.0" r="0.8" fill="#5c636c" fill-opacity="0.74"/><circle cx="49.8" cy="32.3" r="0.9" fill="#5c636c" fill-opacity="0.62"/><circle cx="50.0" cy="30.4" r="0.5" fill="#5c636c" fill-opacity="0.45"/><circle cx="30.3" cy="26.2" r="2.6" fill="#a8aeb4" fill-opacity="0.35"/><circle cx="28.6" cy="27.2" r="0.6" fill="#5c636c" fill-opacity="0.46"/><circle cx="28.6" cy="27.6" r="0.9" fill="#5c636c" fill-opacity="0.63"/><circle cx="29.4" cy="25.2" r="0.6" fill="#5c636c" fill-opacity="0.56"/><circle cx="28.9" cy="26.0" r="0.6" fill="#5c636c" fill-opacity="0.74"/><circle cx="19.5" cy="18.2" r="2.6" fill="#a8aeb4" fill-opacity="0.35"/><circle cx="21.4" cy="18.4" r="0.6" fill="#5c636c" fill-opacity="0.74"/><circle cx="18.7" cy="17.6" r="0.5" fill="#5c636c" fill-opacity="0.53"/><circle cx="19.4" cy="18.2" r="0.6" fill="#5c636c" fill-opacity="0.58"/><circle cx="17.5" cy="17.3" r="0.5" fill="#5c636c" fill-opacity="0.54"/><circle cx="22.2" cy="21.5" r="2.6" fill="#a8aeb4" fill-opacity="0.35"/><circle cx="20.4" cy="19.6" r="0.7" fill="#5c636c" fill-opacity="0.48"/><circle cx="22.5" cy="21.6" r="0.9" fill="#5c636c" fill-opacity="0.63"/><circle cx="23.1" cy="23.0" r="0.7" fill="#5c636c" fill-opacity="0.51"/><circle cx="24.1" cy="20.1" r="0.9" fill="#5c636c" fill-opacity="0.63"/><circle cx="16.0" cy="17.0" r="2.6" fill="#a8aeb4" fill-opacity="0.35"/><circle cx="14.2" cy="18.3" r="0.9" fill="#5c636c" fill-opacity="0.62"/><circle cx="16.9" cy="18.2" r="0.6" fill="#5c636c" fill-opacity="0.58"/><circle cx="16.0" cy="18.3" r="0.9" fill="#5c636c" fill-opacity="0.69"/><circle cx="16.3" cy="18.6" r="0.8" fill="#5c636c" fill-opacity="0.64"/><circle cx="25.0" cy="10.0" r="2.6" fill="#a8aeb4" fill-opacity="0.35"/><circle cx="23.9" cy="8.1" r="0.6" fill="#5c636c" fill-opacity="0.53"/><circle cx="23.4" cy="11.3" r="0.8" fill="#5c636c" fill-opacity="0.62"/><circle cx="25.5" cy="10.7" r="0.7" fill="#5c636c" fill-opacity="0.40"/><circle cx="26.2" cy="11.0" r="0.8" fill="#5c636c" fill-opacity="0.59"/><circle cx="34.0" cy="17.0" r="2.6" fill="#a8aeb4" fill-opacity="0.35"/><circle cx="34.6" cy="15.3" r="0.9" fill="#5c636c" fill-opacity="0.49"/><circle cx="32.3" cy="16.1" r="0.9" fill="#5c636c" fill-opacity="0.47"/><circle cx="35.0" cy="18.9" r="0.7" fill="#5c636c" fill-opacity="0.53"/><circle cx="33.9" cy="17.7" r="0.9" fill="#5c636c" fill-opacity="0.62"/><circle cx="6.5" cy="22.0" r="2.6" fill="#a8aeb4" fill-opacity="0.35"/><circle cx="7.1" cy="20.3" r="0.6" fill="#5c636c" fill-opacity="0.49"/><circle cx="7.5" cy="21.2" r="0.8" fill="#5c636c" fill-opacity="0.40"/><circle cx="4.7" cy="21.1" r="0.8" fill="#5c636c" fill-opacity="0.64"/><circle cx="7.2" cy="21.2" r="0.8" fill="#5c636c" fill-opacity="0.56"/><circle cx="13.0" cy="20.0" r="2.6" fill="#a8aeb4" fill-opacity="0.35"/><circle cx="12.9" cy="18.5" r="0.9" fill="#5c636c" fill-opacity="0.47"/><circle cx="14.9" cy="21.7" r="0.5" fill="#5c636c" fill-opacity="0.56"/><circle cx="14.3" cy="21.9" r="0.7" fill="#5c636c" fill-opacity="0.49"/><circle cx="11.8" cy="21.8" r="0.6" fill="#5c636c" fill-opacity="0.60"/><circle cx="30.0" cy="31.0" r="2.6" fill="#a8aeb4" fill-opacity="0.35"/><circle cx="28.6" cy="31.1" r="1.0" fill="#5c636c" fill-opacity="0.45"/><circle cx="31.3" cy="31.0" r="0.9" fill="#5c636c" fill-opacity="0.65"/><circle cx="28.9" cy="32.6" r="0.7" fill="#5c636c" fill-opacity="0.41"/><circle cx="28.0" cy="31.0" r="0.7" fill="#5c636c" fill-opacity="0.51"/></g></g>
<use href="#paper" transform="translate(759.4,414.6)"/>
<g>
<rect x="848.5" y="370.2" width="56.8" height="34.5" fill="url(#sky)"/>
<path d="M866 402.5 L880 399.5 L893 397.5 L905.3 395.8 L905.3 404.7 L866 404.7 Z" fill="#a89a80"/>
<path d="M851.5 389 L857 386 L866 386.2 L871 389 L882 390 L884 392.5 L878 397 L868 398 L852 399 Z" fill="#eeeeec"/>
<path d="M870 391 L883 389.5 L885 391.5 L877 396.5 L870 396 Z" fill="#d8b4a4"/>
<path d="M850.9 396 L856 394 L862 397 L867.8 396 L867.8 404.7 L850.9 404.7 Z" fill="#2a2e3a"/>
<path d="M858.5 383.5 C859 381 862 380 866 380.3 L869.5 382 L868 384.2 L859 384.5 Z" fill="#ecebe8"/>
<path d="M860 384.2 L868 384 L867.5 388 L861 388 Z" fill="#c48878"/>
<path d="M871.5 386.8 L904 388.4 L904 390.2 L871.5 389.3 Z" fill="#222"/>
</g>
<g>
<rect x="845.1" y="415" width="58.8" height="35.7" fill="#c6beae"/>
<rect x="845.1" y="415" width="58.8" height="7" fill="#6e6858"/><path d="M845.1 422 L860 423.5 L875 422.3 L890 424 L903.9 422.5 L903.9 424.5 L845.1 424.5 Z" fill="#9a9080"/>
<path d="M849 432 L858 429 L866 430 L865.4 450.7 L849 450.7 Z" fill="#2a3250"/>
<path d="M858 426 C859 424 864 423.5 867.2 425 L866.5 429.5 L858.5 429.5 Z" fill="#2a2622"/>
<path d="M863 430.5 L876 429.8 L882.5 432.5 L874 435.5 L863 435 Z" fill="#4a3c36"/><path d="M866 433 L880 432 L881 433.5 L868 436 Z" fill="#b08878"/>
<path d="M869 429.8 L895.7 430.8 L895.7 432 L869 431.5 Z" fill="#3a3632"/>
</g>
<ellipse cx="976" cy="385.6" rx="16.6" ry="14.8" fill="url(#clay)"/><ellipse cx="976" cy="384.1" rx="10" ry="8.5" fill="none" stroke="#d8442a" stroke-width="1"/>
<ellipse cx="976" cy="433.4" rx="16.6" ry="14.8" fill="url(#clay)"/><ellipse cx="976" cy="431.9" rx="10" ry="8.5" fill="none" stroke="#d8442a" stroke-width="1"/>
</svg>
</div></body></html>
